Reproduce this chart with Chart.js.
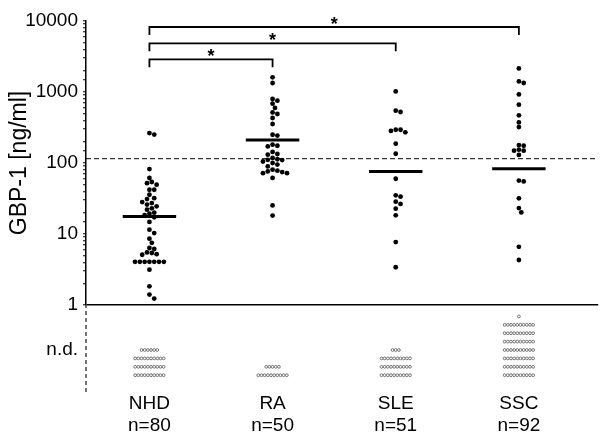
<!DOCTYPE html>
<html><head><meta charset="utf-8">
<script src="https://cdn.jsdelivr.net/npm/chart.js@4/dist/chart.umd.min.js"></script>
<style>html,body{margin:0;padding:0;background:#fff}#wrap{width:603px;height:432px;position:relative}</style>
</head><body><div id="wrap"><canvas id="c"></canvas></div>
<script>
// ---- data ----
const groups = ['NHD', 'RA', 'SLE', 'SSC'];
const groupN = [80, 50, 51, 92];
const nhdValues = [264, 251, 82, 61.5, 54, 52, 49.5, 42, 42, 35.7, 32, 31, 28.2, 27.3, 26, 24.5, 23, 22, 20, 19.3, 18.5, 17.2,
  14.8, 11.5, 10.3, 8.6, 7.5, 6.35, 6.15, 5.5, 5.4, 5.2, 5.1, 4.05, 4.05, 4.05, 4.05, 4.05, 4.05, 4.05, 3.14, 1.83, 1.4, 1.23];
const raValues = [1607, 1340, 797, 754, 684, 596, 516, 490, 430, 354, 250, 243, 181, 175, 171, 143, 134, 131, 118, 113, 111, 110,
  105, 100, 95, 89.5, 80.5, 78, 76, 74.5, 72, 72, 61.7, 25.3, 18.2];
const sleValues = [1019, 545, 523, 294, 294, 283, 270, 187, 135, 60, 35, 33.5, 28.5, 26.5, 22.7, 18.3, 7.7, 3.4];
const sscValues = [2150, 1410, 1340, 925, 662, 469, 373, 321, 179, 175, 154, 149, 149, 130, 56.5, 55, 31.8, 23.2, 20.1, 6.6, 4.3];
const medians = [17.7, 211, 75.7, 83];
const cutoff = 115;
const comparisons = [[0, 1], [0, 2], [0, 3]];
const bracketLevels = [2890, 4850, 8230];
const yTickValues = [1, 10, 100, 1000, 10000];

// ---- layout helpers ----
const FONT = '"Liberation Sans", Arial, sans-serif';
const xMin = -0.515, xMax = 3.644;
const ndMax = 10.36;
const allValues = [nhdValues, raValues, sleValues, sscValues];

function swarmOffsets(vals, dyLog, dx) {
  const order = vals.map((v, i) => i).sort((a, b) => vals[b] - vals[a]);
  const placed = [], off = new Array(vals.length);
  for (const i of order) {
    const ly = Math.log10(vals[i]) / dyLog;
    for (let k = 0; k < 40; k++) {
      const cands = k === 0 ? [0] : [k * 0.5, -k * 0.5];
      let found = null;
      for (const c of cands) {
        if (placed.every(p => (p.x - c) ** 2 + (p.y - ly) ** 2 >= 1)) { found = c; break; }
      }
      if (found !== null) { placed.push({x: found, y: ly}); off[i] = found * dx; break; }
    }
  }
  return off;
}

const detectedPoints = [];
allValues.forEach((vals, g) => {
  const off = swarmOffsets(vals, 0.065, 0.039);
  vals.forEach((v, i) => detectedPoints.push({x: g + off[i], y: v}));
});

const ndPoints = [];
allValues.forEach((vals, g) => {
  const nd = groupN[g] - vals.length;
  const perRow = 10;
  let remaining = nd, row = 0;
  while (remaining > 0) {
    const cnt = Math.min(perRow, remaining);
    for (let c = 0; c < cnt; c++) {
      ndPoints.push({x: g + (c - (cnt - 1) / 2) * 0.0257, y: 2 + row});
    }
    remaining -= cnt; row++;
  }
});

const lineDs = (data, extra) => Object.assign({
  data, showLine: true, pointRadius: 0, borderColor: '#000', borderWidth: 1.5, yAxisID: 'y', fill: false
}, extra || {});

const datasets = [];
datasets.push(lineDs([{x: xMin, y: cutoff}, {x: xMax, y: cutoff}], {borderWidth: 1, borderDash: [5, 3]}));
// dashed axis line of the n.d. band
datasets.push(lineDs([{x: xMin, y: 0}, {x: xMin, y: ndMax}], {yAxisID: 'yND', borderWidth: 1.5, borderColor: '#444', borderDash: [4, 3], clip: false}));
medians.forEach((m, g) => datasets.push(lineDs([{x: g - 0.217, y: m}, {x: g + 0.217, y: m}], {borderWidth: 3})));
comparisons.forEach(([a, b], i) => {
  const lv = bracketLevels[i], low = lv * 0.77;
  datasets.push(lineDs([{x: a, y: low}, {x: a, y: lv}, {x: b, y: lv}, {x: b, y: low}], {borderWidth: 1.8}));
});
datasets.push({data: detectedPoints, yAxisID: 'y', pointRadius: 2.4, pointBackgroundColor: '#000', pointBorderWidth: 0, showLine: false});
datasets.push({data: ndPoints, yAxisID: 'yND', pointRadius: 1.4, pointBackgroundColor: '#fff', pointBorderColor: '#555', pointBorderWidth: 0.8, showLine: false});

const starPlugin = {
  id: 'stars',
  afterDatasetsDraw(chart) {
    const {ctx, scales: {x, y}} = chart;
    ctx.save();
    ctx.font = 'bold 18px ' + FONT;
    ctx.textAlign = 'center';
    ctx.textBaseline = 'alphabetic';
    ctx.fillStyle = '#000';
    comparisons.forEach(([a, b], i) => {
      ctx.fillText('*', x.getPixelForValue((a + b) / 2), y.getPixelForValue(bracketLevels[i]) + 3);
    });
    ctx.restore();
  }
};

new Chart(document.getElementById('c'), {
  type: 'scatter',
  data: {datasets},
  plugins: [starPlugin],
  options: {
    responsive: true, maintainAspectRatio: false, animation: false,
    layout: {padding: {top: 21, right: 0, bottom: 0, left: 0}},
    plugins: {legend: {display: false}, tooltip: {enabled: false}},
    scales: {
      x: {
        type: 'linear', min: xMin, max: xMax,
        border: {display: false}, grid: {display: false, drawTicks: false},
        afterBuildTicks: s => { s.ticks = groups.map((g, i) => ({value: i})); },
        ticks: {autoSkip: false, maxRotation: 0, padding: 0, color: '#000', font: {family: FONT, size: 19},
          callback: v => [groups[v], 'n=' + groupN[v]]},
        afterFit: s => { s.height = 40; }
      },
      yND: {
        type: 'linear', position: 'left', stack: 'v', stackWeight: 87, min: 0, max: ndMax,
        border: {display: false},
        grid: {color: 'rgba(0,0,0,0)', drawTicks: false},
        afterBuildTicks: s => { s.ticks = [{value: 5}]; },
        ticks: {padding: 8, color: '#000', font: {family: FONT, size: 19}, callback: () => 'n.d.'},
        afterFit: s => { s.width = 86; }
      },
      y: {
        type: 'logarithmic', position: 'left', stack: 'v', stackWeight: 284, min: 1, max: 10000,
        border: {display: true, color: '#000', width: 1.5},
        grid: {color: c => (c.tick && c.tick.value === 1) ? '#000' : 'rgba(0,0,0,0)', lineWidth: 1.5,
          tickColor: '#000', tickLength: 3, tickWidth: 1, drawTicks: true},
        ticks: {autoSkip: false, padding: 5, color: '#000', font: {family: FONT, size: 19},
          callback: v => yTickValues.includes(v) ? String(v) : ''},
        title: {display: true, text: 'GBP-1 [ng/ml]', color: '#000', font: {family: FONT, size: 23}, padding: {top: 6, bottom: 0}},
        afterFit: s => { s.width = 86; }
      }
    }
  }
});
</script></body></html>
